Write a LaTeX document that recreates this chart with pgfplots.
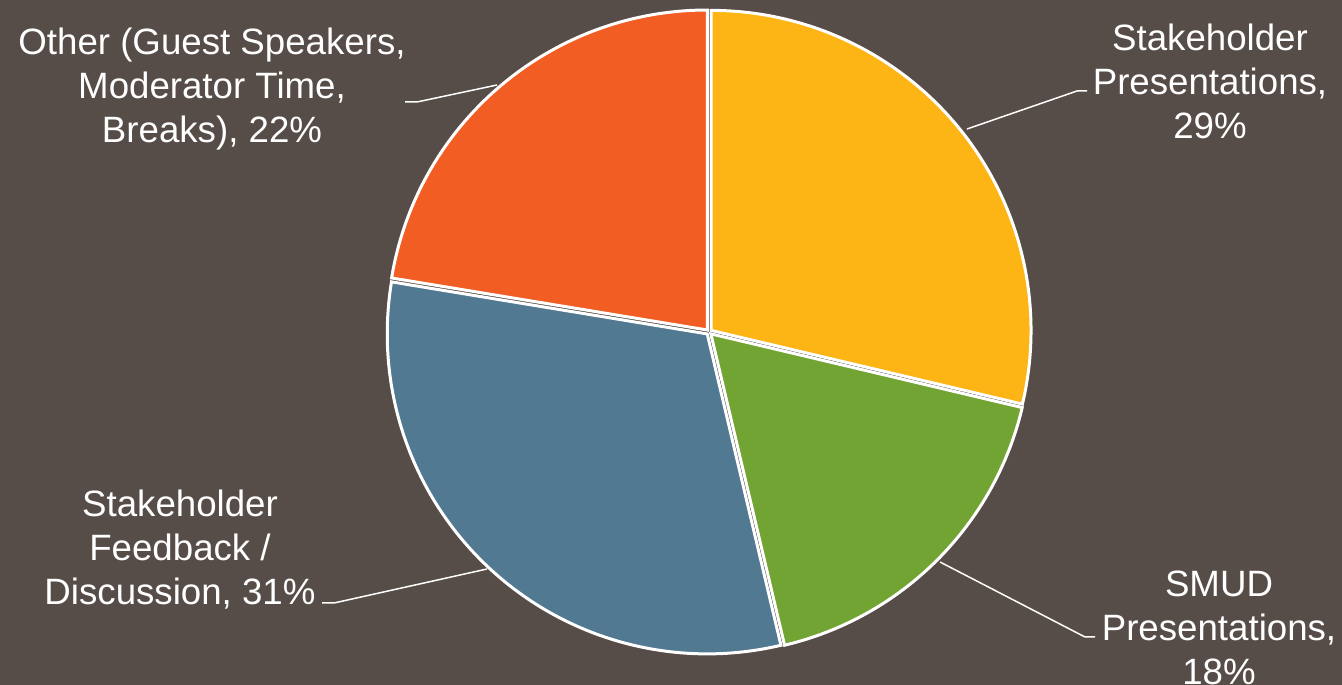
\documentclass[border=0pt]{standalone}
\usepackage{pgfplots}
\pgfplotsset{compat=1.18}
\usepackage{pgfplotstable}
\usepackage{fontspec}
\setmainfont{Liberation Sans}
\definecolor{bg}{RGB}{86,76,72}
\definecolor{cSP}{RGB}{253,180,21}
\definecolor{cSMUD}{RGB}{114,164,52}
\definecolor{cFB}{RGB}{81,121,145}
\definecolor{cOT}{RGB}{241,93,34}
\pgfplotstableread{
label value
SP 28.7
SMUD 17.6
FB 31.3
Other 22.4
}\piedata
\begin{document}
\begin{tikzpicture}
\pgfplotstablegetelem{0}{value}\of\piedata\pgfmathsetmacro\vA{\pgfplotsretval}
\pgfplotstablegetelem{1}{value}\of\piedata\pgfmathsetmacro\vB{\pgfplotsretval}
\pgfplotstablegetelem{2}{value}\of\piedata\pgfmathsetmacro\vC{\pgfplotsretval}
\pgfplotstablegetelem{3}{value}\of\piedata\pgfmathsetmacro\vD{\pgfplotsretval}
\pgfmathsetmacro\aA{90}
\pgfmathsetmacro\aB{\aA-3.6*\vA}
\pgfmathsetmacro\aC{\aB-3.6*\vB}
\pgfmathsetmacro\aD{\aC-3.6*\vC}
\pgfmathsetmacro\aE{\aD-3.6*\vD}
\pgfmathsetmacro\mA{(\aA+\aB)/2}
\pgfmathsetmacro\mB{(\aB+\aC)/2}
\pgfmathsetmacro\mC{(\aC+\aD)/2}
\pgfmathsetmacro\mD{(\aD+\aE)/2}
\begin{axis}[
  at={(0,0)}, anchor=origin,
  scale only axis, width=1342bp, height=685bp,
  xmin=0, xmax=1342, ymin=0, ymax=685,
  hide axis, clip=true,
]
\fill[bg] (axis cs:0,0) rectangle (axis cs:1342,685);
\fill[cSP, draw=white, line width=3bp, shift={(\mA:2.6bp)}] (axis cs:709,353) -- ++(\aA:320bp) arc[start angle=\aA, end angle=\aB, radius=320bp] -- cycle;
\fill[cSMUD, draw=white, line width=3bp, shift={(\mB:2.6bp)}] (axis cs:709,353) -- ++(\aB:320bp) arc[start angle=\aB, end angle=\aC, radius=320bp] -- cycle;
\fill[cFB, draw=white, line width=3bp, shift={(\mC:2.6bp)}] (axis cs:709,353) -- ++(\aC:320bp) arc[start angle=\aC, end angle=\aD, radius=320bp] -- cycle;
\fill[cOT, draw=white, line width=3bp, shift={(\mD:2.6bp)}] (axis cs:709,353) -- ++(\aD:320bp) arc[start angle=\aD, end angle=\aE, radius=320bp] -- cycle;
\draw[white, line width=1.5bp] (axis cs:967,556) -- (axis cs:1077,594) -- (axis cs:1087,594);
\draw[white, line width=1.5bp] (axis cs:940,123) -- (axis cs:1085,48) -- (axis cs:1095,48);
\draw[white, line width=1.5bp] (axis cs:487,116) -- (axis cs:334,82) -- (axis cs:322,82);
\draw[white, line width=1.5bp] (axis cs:497,600) -- (axis cs:417,583) -- (axis cs:405,583);
\begin{scope}[every node/.style={text=white, align=center, inner sep=0pt, font=\fontsize{36.8pt}{44.2pt}\selectfont}]
\node at (axis cs:1210,604) {Stakeholder\\Presentations,\\29\%};
\node at (axis cs:1219,57) {SMUD\\Presentations,\\18\%};
\node at (axis cs:180,135) {Stakeholder\\Feedback /\\Discussion, 31\%};
\node at (axis cs:212,596) {Other (Guest Speakers,\\Moderator Time,\\Breaks), 22\%};
\end{scope}
\end{axis}
\pgfresetboundingbox
\useasboundingbox (0,0) rectangle (1342bp,685bp);
\end{tikzpicture}
\end{document}
